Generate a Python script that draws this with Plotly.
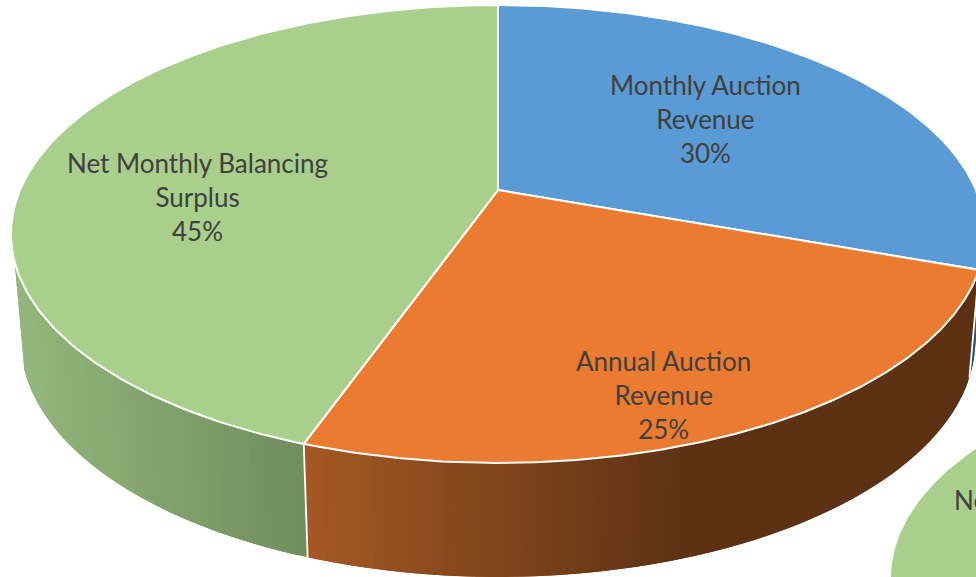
import numpy as np
import plotly.graph_objects as go

categories = ["Monthly Auction<br>Revenue", "Annual Auction<br>Revenue", "Net Monthly Balancing<br>Surplus"]
shares = [30.5, 24.9, 44.6]
percent_labels = ["30%", "25%", "45%"]
top_colors = ["#5b9bd5", "#eb7b30", "#a9cf8c"]
label_x = [705, 663, 197]
label_y = [119, 395, 197]

W, H = 976, 577
CX, CY, A, B, K = 498, 190, 220.5, 478, 0.192
DEPTH_FLAT, DEPTH_PERSP, SHRINK = 67, 38, 0.98
SECOND_DX, SECOND_DY = 880, 344


def rim(theta, dx=0, dy=0):
    X, Y = np.sin(theta), np.cos(theta)
    w = 1 + K * Y
    return CX + B * X / w + dx, CY - A * Y / w + dy


def floor(theta):
    X, Y = np.sin(theta), np.cos(theta)
    w = 1 + K * Y
    return CX + SHRINK * B * X / w, CY - A * Y / w + DEPTH_FLAT + DEPTH_PERSP / w


def lerp(c1, c2, t):
    t = min(max(t, 0), 1)
    return "rgb(%d,%d,%d)" % tuple(round(a + (b - a) * t) for a, b in zip(c1, c2))


def side_color(i, x):
    if i == 2:
        return lerp((146, 182, 124), (112, 141, 93), (x - 20) / 285)
    if i == 1:
        return lerp((165, 88, 35), (92, 49, 20), (x - 305) / 385)
    return "#2f5070"


edges = np.radians(np.concatenate([[0], np.cumsum(shares)]) * 3.6)
visible = [(np.radians(104), edges[1]), (edges[1], edges[2]), (edges[2], np.radians(252))]

fig = go.Figure()

for i, (start, stop) in enumerate(visible):
    n = max(2, int((stop - start) / np.radians(1.0)))
    steps = np.linspace(start, stop, n + 1)
    for j in range(n):
        t0 = steps[j]
        mid = steps[min(j + 1, n)]
        far = steps[min(j + 2, n)]
        arc = np.array([t0, mid, far])
        xs, ys = rim(arc)
        xf, yf = floor(arc)
        c = side_color(i, (xs[0] + xs[1]) / 2)
        fig.add_trace(go.Scatter(
            x=np.concatenate([xs, xf[::-1], xs[:1]]),
            y=np.concatenate([ys, yf[::-1], ys[:1]]),
            mode="lines", fill="toself", fillcolor=c,
            line=dict(color=c, width=0), hoverinfo="skip"))

for t in edges[1:3]:
    x0, y0 = rim(t)
    x1, y1 = floor(t)
    fig.add_trace(go.Scatter(x=[x0, x1], y=[y0, y1], mode="lines",
                             line=dict(color="white", width=1.8), hoverinfo="skip"))

for dx, dy in [(0, 0), (SECOND_DX, SECOND_DY)]:
    for i in range(3):
        t = np.linspace(edges[i], edges[i + 1], 180)
        x, y = rim(t, dx, dy)
        fig.add_trace(go.Scatter(
            x=np.concatenate([[CX + dx], x, [CX + dx]]),
            y=np.concatenate([[CY + dy], y, [CY + dy]]),
            mode="lines", fill="toself", fillcolor=top_colors[i],
            line=dict(color="white", width=2) if dx == 0 else dict(color=top_colors[i], width=0),
            hoverinfo="skip"))

FONT = dict(family="Lato, Carlito, Calibri, sans-serif", size=26, color="#404040")
for name, pct, x, y in zip(categories, percent_labels, label_x, label_y):
    fig.add_annotation(x=x, y=y, xref="x", yref="y", text=f"{name}<br>{pct}", showarrow=False,
                       font=FONT, align="center", xanchor="center", yanchor="middle")
fig.add_annotation(x=952, y=500, xref="x", yref="y", text="Net Monthly Balancing", showarrow=False,
                   font=FONT, xanchor="left", yanchor="middle")

fig.update_layout(
    width=W, height=H, margin=dict(l=0, r=0, t=0, b=0), showlegend=False,
    paper_bgcolor="white", plot_bgcolor="white",
    xaxis=dict(range=[0, W], visible=False, fixedrange=True),
    yaxis=dict(range=[H, 0], visible=False, fixedrange=True),
)
fig.write_html("out.html", config={"displayModeBar": False},
               post_script="document.body.style.margin='0';document.body.style.overflow='hidden';")
